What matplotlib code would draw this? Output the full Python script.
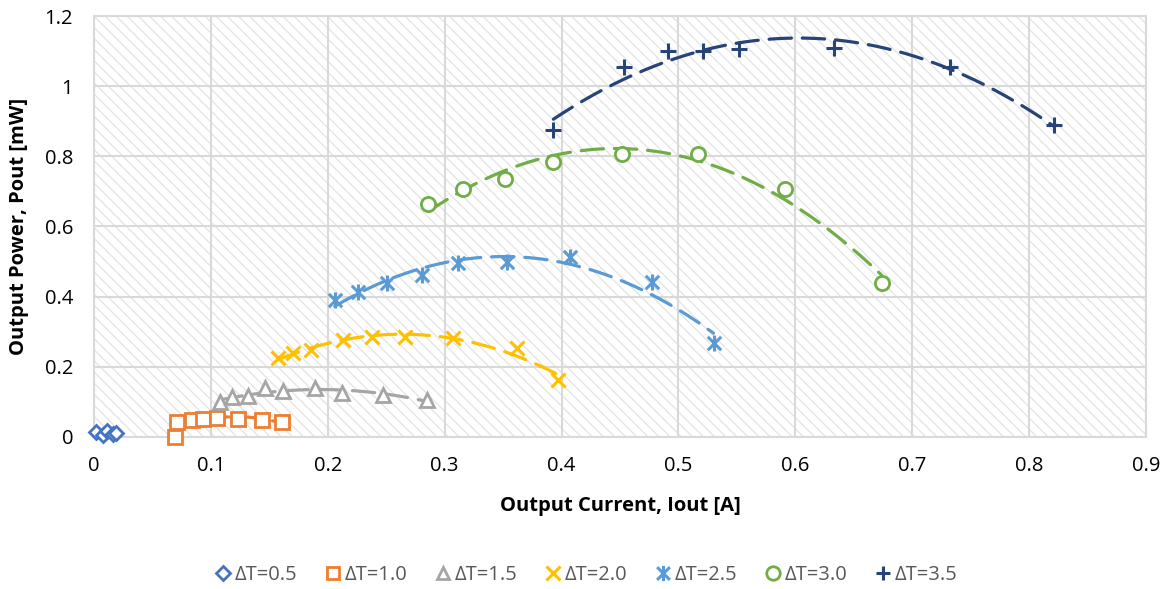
import numpy as np
import matplotlib
matplotlib.use("Agg")
import matplotlib.pyplot as plt
from matplotlib.path import Path
from matplotlib.patches import Rectangle
from matplotlib.lines import Line2D

plt.rcParams['font.family'] = ['Open Sans', 'DejaVu Sans']
plt.rcParams['hatch.linewidth'] = 0.9

# ---- data ----
labels = ["ΔT=0.5", "ΔT=1.0", "ΔT=1.5", "ΔT=2.0", "ΔT=2.5", "ΔT=3.0", "ΔT=3.5"]

x_05 = [0.002, 0.008, 0.011, 0.016, 0.019]
y_05 = [0.015, 0.006, 0.017, 0.008, 0.012]

x_10 = [0.069, 0.071, 0.084, 0.093, 0.105, 0.123, 0.144, 0.161]
y_10 = [0.000, 0.043, 0.048, 0.051, 0.055, 0.050, 0.049, 0.043]

x_15 = [0.108, 0.118, 0.132, 0.146, 0.162, 0.189, 0.212, 0.247, 0.285]
y_15 = [0.100, 0.114, 0.116, 0.140, 0.130, 0.140, 0.125, 0.120, 0.105]

x_20 = [0.157, 0.170, 0.186, 0.213, 0.238, 0.266, 0.307, 0.362, 0.397]
y_20 = [0.225, 0.239, 0.248, 0.277, 0.285, 0.285, 0.282, 0.254, 0.162]

x_25 = [0.206, 0.226, 0.251, 0.281, 0.311, 0.353, 0.407, 0.477, 0.530]
y_25 = [0.391, 0.413, 0.439, 0.462, 0.496, 0.499, 0.513, 0.442, 0.268]

x_30 = [0.286, 0.316, 0.352, 0.393, 0.452, 0.517, 0.591, 0.674]
y_30 = [0.665, 0.708, 0.736, 0.784, 0.808, 0.808, 0.708, 0.439]

x_35 = [0.393, 0.453, 0.491, 0.521, 0.552, 0.633, 0.732, 0.821]
y_35 = [0.875, 1.055, 1.100, 1.100, 1.105, 1.110, 1.055, 0.890]

xs = [x_05, x_10, x_15, x_20, x_25, x_30, x_35]
ys = [y_05, y_10, y_15, y_20, y_25, y_30, y_35]

x_ticks = [0, 0.1, 0.2, 0.3, 0.4, 0.5, 0.6, 0.7, 0.8, 0.9]
x_tick_labels = ["0", "0.1", "0.2", "0.3", "0.4", "0.5", "0.6", "0.7", "0.8", "0.9"]
y_ticks = [0, 0.2, 0.4, 0.6, 0.8, 1.0, 1.2]
y_tick_labels = ["0", "0.2", "0.4", "0.6", "0.8", "1", "1.2"]

# ---- styles ----
colors = ["#4472C4", "#ED7D31", "#A5A5A5", "#FFC000", "#5B9BD5", "#70AD47", "#264478"]
asterisk = Path([(-0.42, -0.42), (0.42, 0.42), (-0.42, 0.42), (0.42, -0.42), (0, -0.5), (0, 0.5)],
                [Path.MOVETO, Path.LINETO, Path.MOVETO, Path.LINETO, Path.MOVETO, Path.LINETO])
markers = ["D", "s", "^", "x", asterisk, "o", "+"]
filled = [True, True, True, False, False, True, False]
msizes = [7.0, 9.6, 9.8, 10.5, 11.5, 10.2, 11.0]
mews = [2.0, 2.0, 2.0, 2.2, 2.2, 2.0, 2.2]

FS = 14.5

W, H = 1170, 589
fig = plt.figure(figsize=(W / 100, H / 100), dpi=100)
ax = fig.add_axes([94 / W, 1 - 437 / H, 1052 / W, 421 / H])

# hatched plot-area background
bg = Rectangle((0, 0), 1, 1, transform=ax.transAxes, facecolor="white",
               edgecolor="#e3e3e3", hatch="\\\\\\", linewidth=0, zorder=0.1)
ax.add_patch(bg)

ax.set_xlim(0, 0.9)
ax.set_ylim(0, 1.2)
ax.set_xticks(x_ticks)
ax.set_xticklabels(x_tick_labels)
ax.set_yticks(y_ticks)
ax.set_yticklabels(y_tick_labels)
ax.grid(True, color="#d9d9d9", linewidth=1.5, zorder=0.5)
ax.set_axisbelow(True)
for s in ax.spines.values():
    s.set_color("#d9d9d9")
    s.set_linewidth(1.5)
ax.tick_params(length=0, labelsize=FS, colors="#000000")
ax.tick_params(axis="x", pad=14)
ax.tick_params(axis="y", pad=15)

handles = []
for x, y, c, m, f, ms, mew, lab in zip(xs, ys, colors, markers, filled, msizes, mews, labels):
    x = np.asarray(x)
    y = np.asarray(y)
    coef = np.polyfit(x, y, 2)
    xf = np.linspace(x.min(), x.max(), 200)
    ax.plot(xf, np.polyval(coef, xf), color=c, linewidth=2.3, dashes=(7, 3.4),
            dash_capstyle="round", zorder=2)
    fc = "white" if f else c
    ax.plot(x, y, linestyle="none", marker=m, markersize=ms, markeredgewidth=mew,
            markeredgecolor=c, markerfacecolor=fc, zorder=3, clip_on=False)
    handles.append(Line2D([], [], linestyle="none", marker=m, markersize=ms * 0.95,
                          markeredgewidth=mew, markeredgecolor=c,
                          markerfacecolor=fc, label=lab))

ax.set_xlabel("Output Current, Iout [A]", fontsize=FS, fontweight="bold", va="center")
ax.xaxis.set_label_coords(0.5, (437 - 506) / 421)
ax.set_ylabel("Output Power, Pout [mW]", fontsize=FS, fontweight="bold", va="center")
ax.yaxis.set_label_coords((19 - 94) / 1052, 0.5)

fig.legend(handles=handles, loc="center", bbox_to_anchor=(0.5, 1 - 575 / H), ncol=7,
           frameon=False, fontsize=FS, handletextpad=0.1, columnspacing=1.25,
           handlelength=1.0, labelcolor="#595959")

fig.savefig("out.png", dpi=100, facecolor="white")
